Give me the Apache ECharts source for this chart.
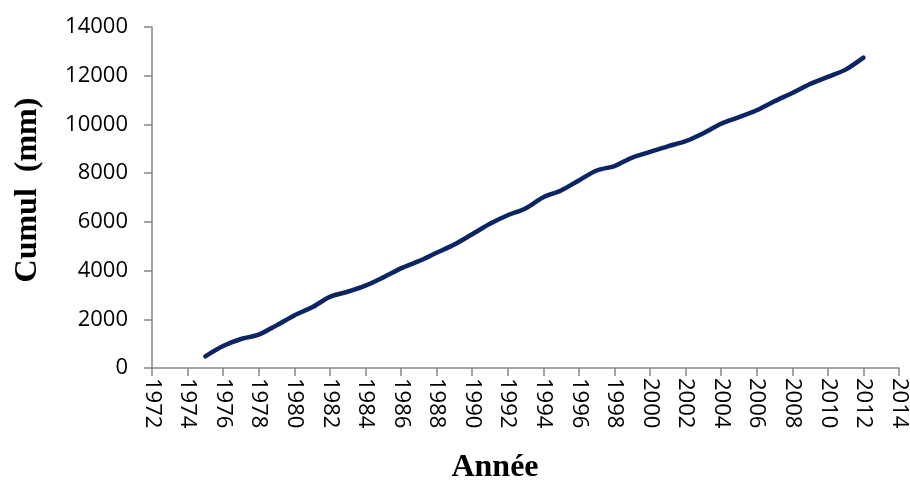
<!DOCTYPE html>
<html>
<head>
<meta charset="utf-8">
<script src="https://cdn.jsdelivr.net/npm/echarts@6/dist/echarts.min.js"></script>
<style>
html,body{margin:0;padding:0;background:#fff;}
#c{width:910px;height:480px;}
</style>
</head>
<body>
<div id="c"></div>
<script>
// Data
var years = [1975,1976,1977,1978,1979,1980,1981,1982,1983,1984,1985,1986,1987,1988,1989,1990,1991,1992,1993,1994,1995,1996,1997,1998,1999,2000,2001,2002,2003,2004,2005,2006,2007,2008,2009,2010,2011,2012];
var cumul = [480,900,1190,1370,1750,2160,2490,2920,3130,3380,3720,4090,4390,4730,5070,5490,5920,6270,6550,7010,7290,7700,8110,8290,8640,8870,9100,9310,9640,10030,10300,10580,10950,11290,11660,11950,12250,12740];
var xTitle = "Année";
var yTitle = "Cumul  (mm)";

var chart = echarts.init(document.getElementById('c'), null, {renderer:'canvas'});
var axisGray = '#868686';
var labelFont = '"Open Sans", "Noto Sans", sans-serif';
var titleFont = 'bold 32px "Liberation Serif", "Times New Roman", serif';
chart.setOption({
  animation: false,
  backgroundColor: '#ffffff',
  grid: {left: 152, right: 6, top: 27, bottom: 112, containLabel: false},
  xAxis: {
    type: 'value', min: 1972, max: 2014, interval: 2,
    axisLine: {show: true, lineStyle: {color: axisGray, width: 1.5}},
    axisTick: {show: true, length: 8, lineStyle: {color: axisGray, width: 1.5}},
    splitLine: {show: false},
    axisLabel: {rotate: -90, margin: 10, color: '#000', fontSize: 22, fontFamily: labelFont,
      formatter: function(v){ return String(v); }}
  },
  yAxis: {
    type: 'value', min: 0, max: 14000, interval: 2000,
    axisLine: {show: true, lineStyle: {color: axisGray, width: 1.5}},
    axisTick: {show: true, length: 8, lineStyle: {color: axisGray, width: 1.5}},
    splitLine: {show: false},
    axisLabel: {margin: 24, color: '#000', fontSize: 22, fontFamily: labelFont,
      formatter: function(v){ return String(v); }}
  },
  series: [{
    type: 'line',
    data: years.map(function(y, i){ return [y, cumul[i]]; }),
    smooth: 0.3,
    showSymbol: false,
    symbol: 'none',
    lineStyle: {color: '#0b2464', width: 4.5, cap: 'round', join: 'round'}
  }],
  graphic: [
    {type: 'text', position: [495, 468],
     style: {text: xTitle, x: 0, y: 0, textAlign: 'center', textVerticalAlign: 'middle',
       font: titleFont, fill: '#000'}},
    {type: 'text', position: [28, 190], rotation: Math.PI/2,
     style: {text: yTitle, x: 0, y: 0, textAlign: 'center', textVerticalAlign: 'middle',
       font: titleFont, fill: '#000'}}
  ]
});
</script>
</body>
</html>
